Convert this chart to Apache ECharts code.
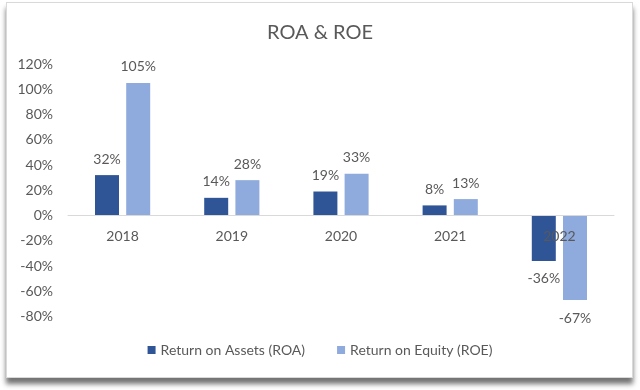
<!DOCTYPE html>
<html>
<head>
<meta charset="utf-8">
<script src="https://cdn.jsdelivr.net/npm/echarts@6/dist/echarts.min.js"></script>
<style>
html,body{margin:0;padding:0;background:#fff;}
#frame{position:absolute;left:6px;top:2px;width:625px;height:374px;border:1px solid #d9d9d9;background:#fff;box-shadow:0 6px 5px rgba(0,0,0,0.55);}
#chart{position:absolute;left:0;top:0;width:640px;height:390px;}
</style>
</head>
<body>
<div id="frame"></div>
<div id="chart"></div>
<script>
const categories = ['2018', '2019', '2020', '2021', '2022'];
const roa = [32, 14, 19, 8, -36];
const roe = [105, 28, 33, 13, -67];
const yTicks = [-80, -60, -40, -20, 0, 20, 40, 60, 80, 100, 120];

const FONT = 'Lato';
const GRAY = '#595959';
const GRID_TOP = 64, GRID_H = 252.5;
const yMin = yTicks[0], yMax = yTicks[yTicks.length - 1];
// distance from grid bottom up to the zero line
const zeroOffset = GRID_H * (0 - yMin) / (yMax - yMin);

function withLabels(arr) {
  return arr.map(v => ({
    value: v,
    label: { position: v < 0 ? 'bottom' : 'top', distance: v < 0 ? 11 : 9 }
  }));
}

const chart = echarts.init(document.getElementById('chart'), null, { renderer: 'canvas' });
chart.setOption({
  animation: false,
  backgroundColor: 'transparent',
  title: {
    text: 'ROA & ROE',
    left: 'center',
    top: 18,
    textStyle: { fontFamily: FONT, fontSize: 20, fontWeight: 'normal', color: GRAY }
  },
  legend: {
    bottom: 28,
    left: 'center',
    itemWidth: 8,
    itemHeight: 8,
    itemGap: 32,
    icon: 'rect',
    textStyle: { fontFamily: FONT, fontSize: 14, color: GRAY }
  },
  grid: { left: 68, width: 546, top: GRID_TOP, height: GRID_H, containLabel: false },
  xAxis: {
    type: 'category',
    data: categories,
    offset: -zeroOffset,
    z: 5,
    axisLine: { onZero: false, lineStyle: { color: '#d9d9d9', width: 1 } },
    axisTick: { show: false },
    axisLabel: { fontFamily: FONT, fontSize: 14, color: GRAY, margin: 14 }
  },
  yAxis: {
    type: 'value',
    min: yMin,
    max: yMax,
    interval: 20,
    splitLine: { show: false },
    axisLine: { show: false },
    axisTick: { show: false },
    axisLabel: { fontFamily: FONT, fontSize: 14, color: GRAY, margin: 15, formatter: v => v + '%' }
  },
  series: [
    {
      name: 'Return on Assets (ROA)',
      type: 'bar',
      data: withLabels(roa),
      barWidth: 24,
      barGap: '30%',
      z: 1,
      itemStyle: { color: '#2F5597' },
      label: { show: true, fontFamily: FONT, fontSize: 14, color: GRAY, formatter: p => p.value + '%' }
    },
    {
      name: 'Return on Equity (ROE)',
      type: 'bar',
      data: withLabels(roe),
      barWidth: 24,
      z: 1,
      itemStyle: { color: '#8FAADC' },
      label: { show: true, fontFamily: FONT, fontSize: 14, color: GRAY, formatter: p => p.value + '%' }
    }
  ]
});
</script>
</body>
</html>
